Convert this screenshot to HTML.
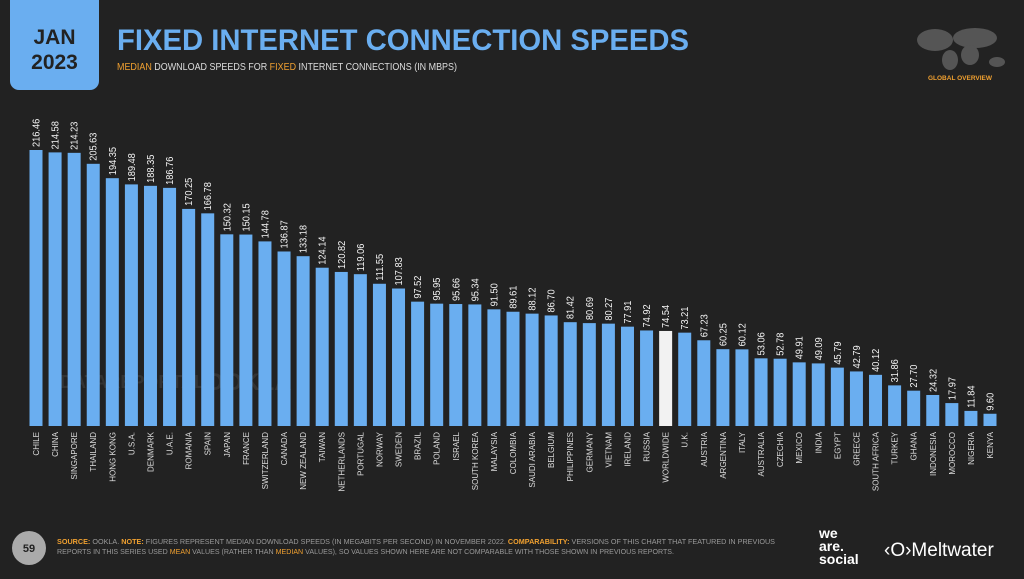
<!DOCTYPE html>
<html><head><meta charset="utf-8"><style>
body{margin:0;width:1024px;height:574px;background:#222222;overflow:hidden;font-family:"Liberation Sans",sans-serif}
</style></head><body>
<svg id="s" width="1024" height="574" xmlns="http://www.w3.org/2000/svg">
<rect x="10" y="-10" width="89" height="100" rx="9" fill="#6aaef0"/>
<text x="54.5" y="44" text-anchor="middle" font-size="21" font-weight="bold" fill="#222">JAN</text>
<text x="54.5" y="69" text-anchor="middle" font-size="21" font-weight="bold" fill="#222">2023</text>
<text x="117" y="50" font-size="30" font-weight="bold" fill="#6aaef0" textLength="572" lengthAdjust="spacingAndGlyphs">FIXED INTERNET CONNECTION SPEEDS</text>
<text x="117" y="70" font-size="10.5" fill="#ddd" textLength="340" lengthAdjust="spacingAndGlyphs"><tspan fill="#f0a030">MEDIAN</tspan> DOWNLOAD SPEEDS FOR <tspan fill="#f0a030">FIXED</tspan> INTERNET CONNECTIONS (IN MBPS)</text>
<g fill="#555"><ellipse cx="935" cy="40" rx="18" ry="11"/><ellipse cx="950" cy="60" rx="8" ry="10"/><ellipse cx="975" cy="38" rx="22" ry="10"/><ellipse cx="970" cy="55" rx="9" ry="10"/><ellipse cx="997" cy="62" rx="8" ry="5"/></g>
<text x="960" y="80" text-anchor="middle" font-size="6.5" font-weight="bold" fill="#f0a030">GLOBAL OVERVIEW</text>
<text x="60" y="388" font-size="18" font-weight="bold" fill="#333">DATAREPORTAL</text>
<text x="205" y="390" font-size="24" font-weight="bold" fill="#333">OOKLA</text>
<g id="bars"></g>
<circle cx="29" cy="548" r="17" fill="#aaa"/>
<text x="29" y="552" text-anchor="middle" font-size="11" font-weight="bold" fill="#222">59</text>
<text x="57" y="544" font-size="7.5" fill="#999" textLength="718" lengthAdjust="spacingAndGlyphs"><tspan fill="#f0a030" font-weight="bold">SOURCE:</tspan> OOKLA. <tspan fill="#f0a030" font-weight="bold">NOTE:</tspan> FIGURES REPRESENT MEDIAN DOWNLOAD SPEEDS (IN MEGABITS PER SECOND) IN NOVEMBER 2022. <tspan fill="#f0a030" font-weight="bold">COMPARABILITY:</tspan> VERSIONS OF THIS CHART THAT FEATURED IN PREVIOUS</text>
<text x="57" y="554" font-size="7.5" fill="#999" textLength="617" lengthAdjust="spacingAndGlyphs">REPORTS IN THIS SERIES USED <tspan fill="#f0a030">MEAN</tspan> VALUES (RATHER THAN <tspan fill="#f0a030">MEDIAN</tspan> VALUES), SO VALUES SHOWN HERE ARE NOT COMPARABLE WITH THOSE SHOWN IN PREVIOUS REPORTS.</text>
<text x="819" y="538" font-size="14" font-weight="bold" fill="#fff">we</text>
<text x="819" y="551" font-size="14" font-weight="bold" fill="#fff">are.</text>
<text x="819" y="564" font-size="14" font-weight="bold" fill="#fff">social</text>
<text x="884" y="556" font-size="19" fill="#fff">‹O›Meltwater</text>
</svg>
<script>
var d=[["CHILE",216.46],["CHINA",214.58],["SINGAPORE",214.23],["THAILAND",205.63],["HONG KONG",194.35],["U.S.A.",189.48],["DENMARK",188.35],["U.A.E.",186.76],["ROMANIA",170.25],["SPAIN",166.78],["JAPAN",150.32],["FRANCE",150.15],["SWITZERLAND",144.78],["CANADA",136.87],["NEW ZEALAND",133.18],["TAIWAN",124.14],["NETHERLANDS",120.82],["PORTUGAL",119.06],["NORWAY",111.55],["SWEDEN",107.83],["BRAZIL",97.52],["POLAND",95.95],["ISRAEL",95.66],["SOUTH KOREA",95.34],["MALAYSIA",91.50],["COLOMBIA",89.61],["SAUDI ARABIA",88.12],["BELGIUM",86.70],["PHILIPPINES",81.42],["GERMANY",80.69],["VIETNAM",80.27],["IRELAND",77.91],["RUSSIA",74.92],["WORLDWIDE",74.54],["U.K.",73.21],["AUSTRIA",67.23],["ARGENTINA",60.25],["ITALY",60.12],["AUSTRALIA",53.06],["CZECHIA",52.78],["MEXICO",49.91],["INDIA",49.09],["EGYPT",45.79],["GREECE",42.79],["SOUTH AFRICA",40.12],["TURKEY",31.86],["GHANA",27.70],["INDONESIA",24.32],["MOROCCO",17.97],["NIGERIA",11.84],["KENYA",9.60]];
var h="",base=426,k=276/216.46;
d.forEach(function(e,i){var cx=36+i*19.08,bh=e[1]*k,top=base-bh;
var c=e[0]=="WORLDWIDE"?"#f2f2f2":"#6aaef0";
h+='<rect x="'+(cx-6.5)+'" y="'+top+'" width="13" height="'+bh+'" fill="'+c+'"/>';
h+='<text transform="translate('+(cx+3.5)+','+(top-3)+') rotate(-90) scale(0.88,1)" font-size="10.5" fill="#f4f4f4">'+e[1].toFixed(2)+'</text>';
h+='<text transform="translate('+(cx+3)+',432) rotate(-90)" text-anchor="end" font-size="8" fill="#ddd">'+e[0]+'</text>';});
document.getElementById("bars").innerHTML=h;
</script>
</body></html>
